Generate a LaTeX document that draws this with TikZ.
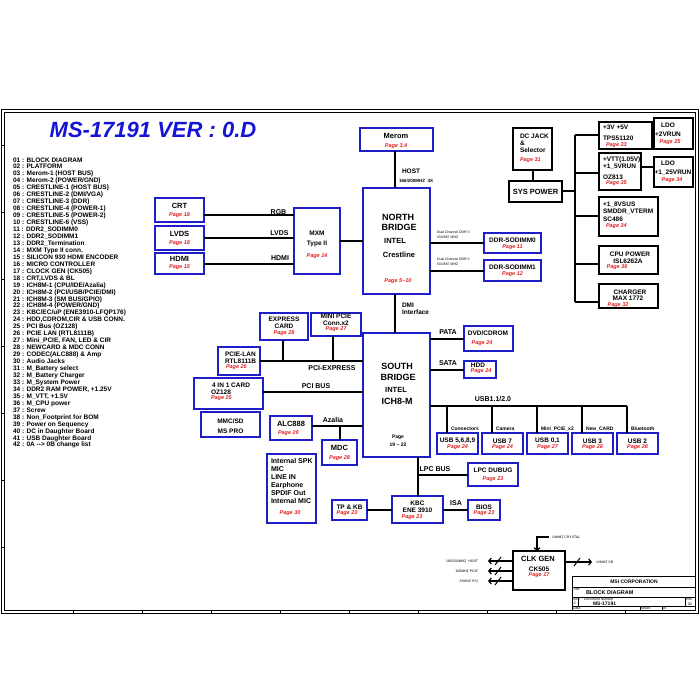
\documentclass[tikz,border=0pt]{standalone}
\usepackage{fontspec}
\setmainfont{Liberation Sans}
\usetikzlibrary{fit,arrows.meta}
\definecolor{bbl}{RGB}{30,30,200}
\definecolor{pgred}{RGB}{225,30,30}
\definecolor{ttlblue}{RGB}{20,20,215}
\begin{document}
\begin{tikzpicture}[x=1pt,y=-1pt,
  every node/.style={inner sep=0pt,outer sep=0pt},
  bb/.style={draw=bbl,line width=1.6pt},
  kb/.style={draw=black,line width=1.2pt},
  wire/.style={line width=2pt},
  ckw/.style={line width=1.2pt,-{Straight Barb[length=2.5pt,width=6pt,line width=1.2pt]}},
  tl/.style={font=\bfseries\fontsize{7.5}{8}\selectfont},
  ts/.style={font=\bfseries\fontsize{6.5}{7}\selectfont},
  big/.style={font=\bfseries\fontsize{9}{10}\selectfont},
  pg/.style={text=pgred,font=\bfseries\itshape\fontsize{5.5}{6}\selectfont},
  wl/.style={font=\bfseries\fontsize{7}{8}\selectfont},
  sm/.style={font=\bfseries\fontsize{5}{6}\selectfont},
  tiny/.style={font=\fontsize{3.5}{4}\selectfont}]
\useasboundingbox (0,0) rectangle (700,700);
% frame
\draw[line width=0.6pt] (1,109) rectangle (698,613);
\draw[line width=0.8pt] (4,112) rectangle (695,610);
\foreach \x in {73,142,...,630} \draw[line width=0.5pt] (\x,610) -- (\x,613);
\foreach \y in {547,480,...,120} \draw[line width=0.5pt] (1,\y) -- (4,\y);
% title
\node[font=\bfseries\itshape\fontsize{22}{24}\selectfont,text=ttlblue] (title) at (153,130) {MS-17191 VER : 0.D};
% table of contents
\node[anchor=north west,align=left,font=\bfseries\fontsize{6.5}{6.95}\selectfont] (toc) at (13,157.5) {%
01 : BLOCK DIAGRAM\\02 : PLATFORM\\03 : Merom-1 (HOST BUS)\\04 : Merom-2 (POWER/GND)\\
05 : CRESTLINE-1 (HOST BUS)\\06 : CRESTLINE-2 (DMI/VGA)\\07 : CRESTLINE-3 (DDR)\\
08 : CRESTLINE-4 (POWER-1)\\09 : CRESTLINE-5 (POWER-2)\\10 : CRESTLINE-6 (VSS)\\
11 : DDR2\_SODIMM0\\12 : DDR2\_SODIMM1\\13 : DDR2\_Termination\\14 : MXM Type II conn.\\
15 : SILICON 930 HDMI ENCODER\\16 : MICRO CONTROLLER\\17 : CLOCK GEN (CK505)\\
18 : CRT,LVDS \& BL\\19 : ICH8M-1 (CPU/IDE/Azalia)\\20 : ICH8M-2 (PCI/USB/PCIE/DMI)\\
21 : ICH8M-3 (SM BUS/GPIO)\\22 : ICH8M-4 (POWER/GND)\\23 : KBC/EC/uP (ENE3910-LFQP176)\\
24 : HDD,CDROM,CIR \& USB CONN.\\25 : PCI Bus (OZ128)\\26 : PCIE LAN (RTL8111B)\\
27 : Mini\_PCIE, FAN, LED \& CIR\\28 : NEWCARD \&  MDC CONN\\29 : CODEC(ALC888) \& Amp\\
30 : Audio Jacks\\31 : M\_Battery select\\32 : M\_Battery Charger\\33 : M\_System Power\\
34 : DDR2 RAM POWER, +1.25V\\35 : M\_VTT, +1.5V\\36 : M\_CPU power\\37 : Screw\\
38 : Non\_Footprint for BOM\\39 : Power on Sequency\\40 : DC in Daughter Board\\
41 : USB Daughter Board\\42 : 0A {-}{-}> 0B change list};
% ---------- blocks ----------
\node[bb,fit={(155,198)(204,222)}] (crt) {};
\node[tl] at (179.5,206) {CRT}; \node[pg] at (179.5,215) {Page 18};
\node[bb,fit={(155,226)(204,250)}] (lvds) {};
\node[tl] at (179.5,234) {LVDS}; \node[pg] at (179.5,243) {Page 18};
\node[bb,fit={(155,253)(204,274)}] (hdmi) {};
\node[tl] at (179.5,259) {HDMI}; \node[pg] at (179.5,267) {Page 15};
\node[bb,fit={(294,208)(340,274)}] (mxm) {};
\node[ts] at (317,233) {MXM}; \node[ts] at (317,244) {Type II}; \node[pg] at (317,256) {Page 14};
\node[bb,fit={(360,128)(433,151)}] (merom) {};
\node[tl] at (396,136) {Merom}; \node[pg] at (396,146) {Page 3,4};
\node[bb,fit={(363,188)(430,294)}] (nb) {};
\node[big] at (398,217) {NORTH}; \node[big] at (399,227) {BRIDGE};
\node[tl] at (395,241) {INTEL}; \node[tl] at (399,255) {Crestline};
\node[pg] at (398,281) {Page 5\textasciitilde 10};
\node[bb,fit={(484,233)(541,253)}] (sodimmA) {};
\node[ts] at (512.5,240) {DDR-SODIMM0}; \node[pg] at (512.5,247) {Page 11};
\node[bb,fit={(484,260)(541,281)}] (sodimmB) {};
\node[ts] at (512.5,267) {DDR-SODIMM1}; \node[pg] at (512.5,274) {Page 12};
\node[bb,fit={(363,333)(430,457)}] (sb) {};
\node[big] at (397,366) {SOUTH}; \node[big] at (398,377) {BRIDGE};
\node[tl] at (396,390) {INTEL}; \node[big] at (397,401) {ICH8-M};
\node[sm] at (398,437) {Page}; \node[sm] at (398,445) {19 \textasciitilde\ 22};
\node[bb,fit={(260,313)(308,340)}] (express) {};
\node[ts] at (284,319) {EXPRESS}; \node[ts] at (284,326) {CARD}; \node[pg] at (284,333) {Page 28};
\node[bb,fit={(311,313)(361,336)}] (minipcie) {};
\node[ts] at (336,316) {MINI PCIE}; \node[ts] at (336,323) {Conn.x2}; \node[pg] at (336,329.5) {Page 27};
\node[bb,fit={(218,347)(260,375)}] (pcielan) {};
\node[ts,anchor=west] at (225,354) {PCIE-LAN}; \node[ts,anchor=west] at (225,361) {RTL8111B};
\node[pg,anchor=west] at (226,367.5) {Page 26};
\node[bb,fit={(194,378)(263,409)}] (card) {};
\node[ts] at (231,385) {4 IN 1 CARD}; \node[ts,anchor=west] at (211,392) {OZ128};
\node[pg,anchor=west] at (211,398.5) {Page 25};
\node[bb,fit={(201,412)(260,437)}] (mmc) {};
\node[ts] at (230.5,421) {MMC/SD}; \node[ts] at (230.5,431) {MS PRO};
\node[bb,fit={(270,416)(312,440)}] (alc) {};
\node[tl] at (291,424) {ALC888}; \node[pg,anchor=west] at (278,433.5) {Page 29};
\node[bb,fit={(322,440)(357,465)}] (mdc) {};
\node[tl] at (339.5,448) {MDC}; \node[pg] at (339.5,458) {Page 28};
\node[bb,fit={(267,454)(316,523)}] (audio) {};
\node[anchor=north west,align=left,font=\bfseries\fontsize{7}{7.9}\selectfont] at (271,458.5)
  {Internal SPK\\MIC\\LINE IN\\Earphone\\SPDIF Out\\Internal MIC};
\node[pg] at (290,513.5) {Page 30};
\node[bb,fit={(464,326)(513,351)}] (dvd) {};
\node[ts] at (488,333) {DVD/CDROM}; \node[pg] at (482,343) {Page 24};
\node[bb,fit={(464,361)(496,378)}] (hdd) {};
\node[ts] at (478,365) {HDD}; \node[pg] at (481,371.5) {Page 24};
% USB boxes
\foreach \n/\x/\u/\p/\l in {A/437/{USB 5,6,8,9}/24/Connectors, B/482/USB 7/24/Camera,
   C/527/{USB 0,1}/27/Mini\_PCIE\_x2, D/572/USB 3/28/New\_CARD, E/617/USB 2/28/Bluetooth}{
  \node[bb,fit={(\x,433)(\x+41,454)}] (usb\n) {};
  \node[ts] at (\x+20.5,441) {\u};
  \node[pg] at (\x+20.5,447.5) {Page \p};
  \node[sm,anchor=west] at (\x+14,429) {\l};
}
\node[bb,fit={(468,463)(518,486)}] (lpcdbg) {};
\node[ts] at (493,470) {LPC DUBUG}; \node[pg] at (493,479) {Page 23};
\node[bb,fit={(392,496)(443,523)}] (kbc) {};
\node[ts] at (417.5,503) {KBC}; \node[ts] at (417.5,510) {ENE 3910}; \node[pg] at (412,517) {Page 23};
\node[bb,fit={(332,500)(367,520)}] (tpkb) {};
\node[ts] at (349.5,507) {TP \& KB}; \node[pg] at (347,513.5) {Page 23};
\node[bb,fit={(468,500)(500,520)}] (bios) {};
\node[ts] at (484,507) {BIOS}; \node[pg] at (484,513.5) {Page 23};
% clock generator
\node[kb,fit={(513,551)(565,590)}] (clk) {};
\node[tl] at (538,559) {CLK GEN}; \node[ts] at (539,569) {CK505}; \node[pg] at (539,575) {Page 17};
% power
\node[kb,fit={(513,128)(552,170)}] (dcjack) {};
\node[ts,anchor=west] at (520,136) {DC JACK}; \node[ts,anchor=west] at (520,143) {\&};
\node[ts,anchor=west] at (520,150) {Selector}; \node[pg,anchor=west] at (520,160) {Page 31};
\node[kb,fit={(509,181)(562,202)}] (syspwr) {};
\node[tl] at (535.5,192) {SYS POWER};
\node[kb,fit={(599,122)(652,149)}] (pthree) {};
\node[ts,anchor=west] at (603,127.5) {+3V +5V}; \node[ts,anchor=west] at (603,138.5) {TPS51120};
\node[pg,anchor=west] at (606,145) {Page 33};
\node[kb,fit={(654,118)(693,149)}] (ldoA) {};
\node[ts] at (668,125) {LDO}; \node[ts] at (668,134) {+2VRUN}; \node[pg] at (670,142) {Page 25};
\node[kb,fit={(599,153)(641,190)}] (vtt) {};
\node[ts,anchor=west] at (603,160) {+VTT(1.05V)}; \node[ts,anchor=west] at (603,167) {+1\_5VRUN};
\node[ts,anchor=west] at (603,177) {OZ813}; \node[pg,anchor=west] at (606,183.5) {Page 35};
\node[kb,fit={(654,157)(693,187)}] (ldoB) {};
\node[ts] at (668,163) {LDO}; \node[ts] at (673,172.5) {+1\_25VRUN}; \node[pg] at (672,180) {Page 34};
\node[kb,fit={(599,197)(658,236)}] (vsus) {};
\node[ts,anchor=west] at (603,204.5) {+1\_8VSUS}; \node[ts,anchor=west] at (603,212) {SMDDR\_VTERM};
\node[ts,anchor=west] at (603,219) {SC486}; \node[pg,anchor=west] at (606,226) {Page 34};
\node[kb,fit={(599,246)(658,274)}] (cpupwr) {};
\node[ts] at (630,254) {CPU POWER}; \node[ts] at (628,261) {ISL6262A}; \node[pg] at (617,267.5) {Page 36};
\node[kb,fit={(599,284)(658,308)}] (charger) {};
\node[ts] at (630,292) {CHARGER}; \node[ts] at (628,298.5) {MAX 1772}; \node[pg] at (618,305) {Page 32};
% ---------- connectors ----------
\draw[wire] ([yshift=-5pt]crt.east) -- ([yshift=-5pt]crt.east -| mxm.west);
\draw[wire] (lvds.east) -- (lvds.east -| mxm.west);
\draw[wire] (hdmi.east) -- (hdmi.east -| mxm.west);
\node[wl] at (278.5,212) {RGB};
\node[wl] at (279.5,233.5) {LVDS};
\node[wl] at (280,258) {HDMI};
\draw[wire] (mxm.east) -- (mxm.east -| nb.west);
\draw[wire] ([xshift=-1.5pt]merom.south) -- ([xshift=-1.5pt]nb.north);
\node[ts,anchor=west] at (402,171) {HOST};
\node[font=\bfseries\fontsize{4.5}{5}\selectfont,anchor=west] at (399,180.5) {166/200MHZ\ \ 4X};
\draw[wire] (sodimmA.west -| nb.east) -- (sodimmA.west);
\draw[wire] (sodimmB.west -| nb.east) -- (sodimmB.west);
\node[tiny,anchor=west] at (437,232) {Dual Channel DDR II};
\node[tiny,anchor=west] at (437,237.5) {533/667 MHZ};
\node[tiny,anchor=west] at (437,259) {Dual Channel DDR II};
\node[tiny,anchor=west] at (437,264.5) {533/667 MHZ};
\draw[wire] ([xshift=-1.5pt]nb.south) -- ([xshift=-1.5pt]sb.north);
\node[ts,anchor=west] at (402,305) {DMI}; \node[ts,anchor=west] at (402,312) {Interface};
% PCI express bus
\draw[wire] (pcielan.east) -- (pcielan.east -| sb.west);
\draw[wire] ([xshift=-1pt]express.south) -- ([xshift=-1pt]express.south |- pcielan.east);
\draw[wire] ([xshift=-3pt]minipcie.south) -- ([xshift=-3pt]minipcie.south |- pcielan.east);
\node[wl] at (332,368.5) {PCI-EXPRESS};
\draw[wire] ([yshift=1.5pt]card.east) -- ([yshift=1.5pt]card.east -| sb.west);
\node[wl] at (316,386) {PCI BUS};
\draw[wire] ([yshift=2pt]alc.east) -- ([yshift=2pt]alc.east -| sb.west);
\draw[wire] (mdc.north) -- ([yshift=2pt]mdc.north |- alc.east);
\node[wl] at (333,420) {Azalia};
\draw[wire] (dvd.west -| sb.east) -- (dvd.west);
\node[wl] at (448,332.5) {PATA};
\draw[wire] (hdd.west -| sb.east) -- (hdd.west);
\node[wl] at (448,363) {SATA};
\coordinate (usbend) at (627,406);
\draw[wire] (sb.east |- usbend) -- (usbend);
\foreach \n in {A,B,C,D,E}
  \draw[wire] ([xshift=10pt]usb\n.north west) -- ([xshift=10pt]usb\n.north west |- usbend);
\node[wl] at (493,399.5) {USB1.1/2.0};
% LPC / KBC
\draw[wire] (kbc.north |- sb.south) -- (kbc.north);
\draw[wire] (kbc.north |- lpcdbg.west) -- (lpcdbg.west);
\node[wl] at (435,469) {LPC BUS};
\draw[wire] (tpkb.east) -- (tpkb.east -| kbc.west);
\draw[wire] (kbc.east |- bios.west) -- (bios.west);
\node[wl] at (456,503) {ISA};
% clock lines
\coordinate (xtal) at (549,537);
\draw[ckw] (xtal) -| ([xshift=-2pt]clk.north);
\node[tiny,anchor=west] at (552,537) {14MHZ CRYSTAL};
\coordinate (sbclk) at (592,562);
\draw[ckw] (clk.east |- sbclk) -- (sbclk);
\draw[line width=1pt] (574,566) -- (580,558);
\node[tiny,anchor=west] at (596,562) {14MHZ SB};
\foreach \yy/\lab in {561/166\slash 200MHZ\ \ HOST,571/100MHZ PCIE,581/33MHZ PCI}{
  \coordinate (ck) at (488,\yy);
  \draw[ckw] (clk.west |- ck) -- (ck);
  \draw[line width=1pt] (495,\yy+4) -- (501,\yy-4);
  \node[tiny,anchor=east] at (478,\yy) {\lab};
}
% power connectors
\draw[wire] (dcjack.south) -- (dcjack.south |- syspwr.north);
\coordinate (pbt) at (575,135);
\coordinate (pbb) at (575,302);
\draw[line width=2.5pt] (pbt) -- (pbb);
\draw[wire] (syspwr.east) -- (syspwr.east -| pbt);
\draw[wire] (pbt) -- (pbt -| pthree.west);
\draw[wire] ([yshift=-1.5pt]vtt.west -| pbt) -- ([yshift=-1.5pt]vtt.west);
\draw[wire] (vsus.west -| pbt) -- (vsus.west);
\draw[wire] ([yshift=-4pt]cpupwr.west -| pbt) -- ([yshift=-4pt]cpupwr.west);
\draw[wire] (pbb) -- (pbb -| charger.west);
\draw[wire] ([yshift=-1.5pt]pthree.east) -- ([yshift=-1.5pt]pthree.east -| ldoA.west);
\draw[wire] ([yshift=4.5pt]vtt.east) -- ([yshift=4.5pt]vtt.east -| ldoB.west);
% title block
\node[draw,line width=0.8pt,fit={(572,576)(695,610)}] (tblock) {};
\draw[line width=0.5pt] (572,587) -- (695,587);
\draw[line width=0.5pt] (572,597) -- (695,597);
\draw[line width=0.5pt] (572,606) -- (695,606);
\draw[line width=0.5pt] (578,597) -- (578,606);
\draw[line width=0.5pt] (685,597) -- (685,606);
\draw[line width=0.5pt] (640,606) -- (640,610);
\draw[line width=0.5pt] (662,606) -- (662,610);
\node[sm] at (634,582) {MSI CORPORATION};
\node[tiny,anchor=north west] at (573,588) {Title};
\node[font=\bfseries\fontsize{5.5}{6}\selectfont,anchor=west] at (586,593) {BLOCK DIAGRAM};
\node[tiny,anchor=north west] at (573,598) {Size};
\node[tiny] at (575,603.5) {C};
\node[tiny,anchor=north west] at (584,598) {Document Number};
\node[font=\bfseries\fontsize{5}{6}\selectfont,anchor=west] at (593,603.5) {MS-17191};
\node[tiny,anchor=north west] at (686,598) {Rev};
\node[tiny] at (690,604) {0D};
\node[tiny,anchor=west] at (573,608.2) {Date:};
\node[tiny,anchor=west] at (641,608.2) {Sheet};
\node[tiny,anchor=west] at (663,608.2) {of};
\end{tikzpicture}
\end{document}
